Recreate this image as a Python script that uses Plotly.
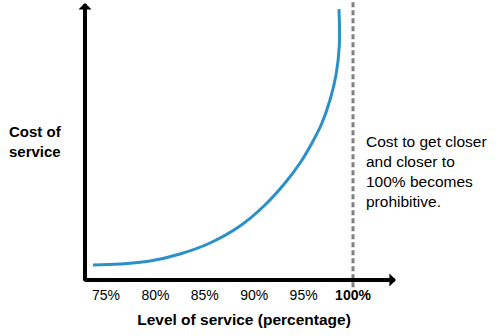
import plotly.graph_objects as go

# Data (level of service in %, cost of service in arbitrary units 0-100)
level = [73.68, 76.42, 79.45, 82.49, 85.53, 88.56, 91.09, 93.12, 94.64, 95.85, 96.86, 97.67, 98.28, 98.62, 98.58]
cost = [5.42, 5.78, 6.86, 9.39, 13.36, 19.49, 27.08, 35.02, 42.24, 49.46, 56.68, 64.98, 74.01, 84.84, 97.8]
tick_vals = [75, 80, 85, 90, 95, 100]
tick_text = ["75%", "80%", "85%", "90%", "95%", "<b>100%</b>"]
limit = 100

X_RANGE = [72.874, 105.06]
Y_RANGE = [0, 101.08]

fig = go.Figure()
fig.add_trace(go.Scatter(
    x=level, y=cost, mode="lines",
    line=dict(color="#2A90C8", width=3, shape="spline", smoothing=1),
    hoverinfo="skip", showlegend=False,
))

# dashed 100% line
fig.add_shape(type="line", xref="x", yref="paper", x0=limit, x1=limit, y0=-0.026, y1=1.0,
              line=dict(color="#808080", width=3, dash="5px,3px"))

# axis arrows
fig.add_annotation(x=72.874, y=100.0, ax=72.874, ay=-0.8, xref="x", yref="y", axref="x", ayref="y",
                   showarrow=True, arrowhead=1, arrowwidth=4, arrowsize=0.55, arrowcolor="black", text="")
fig.add_annotation(x=104.35, y=0, ax=72.67, ay=0, xref="x", yref="y", axref="x", ayref="y",
                   showarrow=True, arrowhead=1, arrowwidth=4, arrowsize=0.55, arrowcolor="black", text="")

# y title
fig.add_annotation(text="<b>Cost of<br>service</b>", xref="paper", yref="paper", x=-0.245, y=0.493,
                   xanchor="left", yanchor="middle", align="left", showarrow=False,
                   font=dict(family="Liberation Sans, Arial", size=15, color="black"))

# note
fig.add_annotation(text="Cost to get closer<br>and closer to<br>100% becomes<br>prohibitive.",
                   xref="paper", yref="paper", x=0.878, y=0.386,
                   xanchor="left", yanchor="middle", align="left", showarrow=False,
                   font=dict(family="Liberation Sans, Arial", size=15.5, color="black"))

fig.update_layout(
    width=498, height=336,
    margin=dict(l=85, r=95, t=0, b=56, autoexpand=False),
    paper_bgcolor="white", plot_bgcolor="white",
    font=dict(family="Liberation Sans, Arial", color="black"),
    xaxis=dict(range=X_RANGE, showgrid=False, zeroline=False, showline=False,
               tickvals=tick_vals, ticktext=tick_text, ticks="", ticklabelstandoff=5,
               tickfont=dict(size=14, color="black"),
               title=dict(text="<b>Level of service (percentage)</b>", font=dict(size=15.5, color="black"),
                          standoff=12)),
    yaxis=dict(range=Y_RANGE, showgrid=False, zeroline=False, showline=False, showticklabels=False),
)

fig.write_html("out.html")
